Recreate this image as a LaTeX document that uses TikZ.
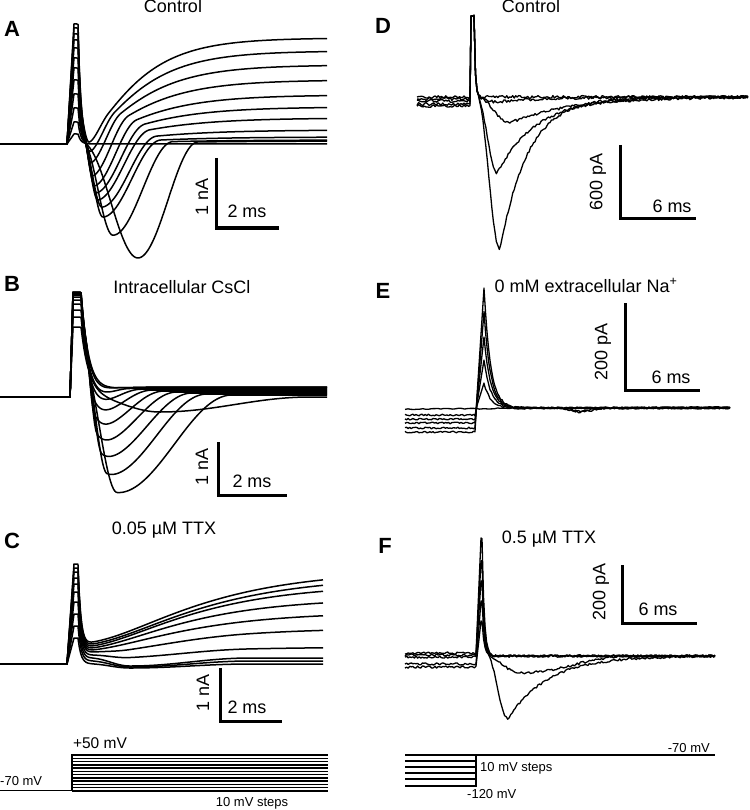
\documentclass[tikz,border=0pt]{standalone}
\usepackage{fontspec}
\setmainfont{Liberation Sans}
\begin{document}
\pgfmathsetseed{11}
\begin{tikzpicture}[x=1pt,y=-1pt,
  declare function={
    spk(\qx,\qp,\qh,\qt) = (\qx<\qp) ? \qh : \qh*exp(max(-12,-(\qx-\qp)/\qt));
    nac(\qx,\qs,\qm,\qw) = (\qx<\qs) ? 0 : ((\qx<\qm) ? 0.5*(1-cos((\qx-\qs)/(\qm-\qs)*180)) : ((\qx<\qm+\qw) ? 0.5*(1+cos((\qx-\qm)/\qw*180)) : 0));
    nae(\qx,\qs,\qm,\qw) = (\qx<\qs) ? 0 : ((\qx<\qm) ? 0.5*(1-cos((\qx-\qs)/(\qm-\qs)*180)) : exp(max(-12,-(\qx-\qm)/\qw)));
    kk(\qx,\qs,\qt) = (\qx<\qs) ? 0 : (1-exp(max(-12,-(\qx-\qs)/\qt)))*(1-exp(max(-12,-(\qx-\qs)/\qt)));
    ko(\qx,\qs,\qt) = (\qx<\qs) ? 0 : 1-exp(max(-12,-(\qx-\qs)/\qt));
  },
  tr/.style={line width=1.5pt,line join=round},
  trd/.style={line width=1.3pt,line join=round},
  sbar/.style={line width=3pt,line join=miter},
  proto/.style={line width=1.5pt},
  ttl/.style={font=\fontsize{18}{20}\selectfont,inner sep=0pt,anchor=base},
  lbl/.style={font=\fontsize{22}{24}\selectfont\bfseries,inner sep=0pt},
  sc/.style={font=\fontsize{18}{20}\selectfont,inner sep=0pt},
  scb/.style={font=\fontsize{18}{20}\selectfont,inner sep=0pt,anchor=base},
  sm/.style={font=\fontsize{13}{15}\selectfont,inner sep=0pt}]
\path[use as bounding box,fill=white] (0,0) rectangle (749,810);

% ---------------- Panel A ----------------
\node[lbl] (lA) at (12,29) {A};
\node[ttl] (tA) at (173,13) {Control};
\foreach \sH/\sD/\sT/\sW/\sP/\sK in {120/8/89/20/106/42, 116/16/90/25/93/44, 110/26/91/30/79/46, 104/38/93/36/64/48, 96/47/95/42/49/50, 86/53/97/48/37/52, 76/59/98/52/26/55, 64/65/102/55/14/58, 50/74/103/58/7/60, 36/92/113/60/4/65, 22/115/138/60/3/70, 10/0/140/50/0/70}
{\draw[tr] (0,144) -- (67,144) -- (74,{144-\sH}) -- plot[domain=74:327,samples=190] (\x,{144-spk(\x,78,\sH,2.8)+\sD*nac(\x,83,\sT,\sW)-\sP*kk(\x,76,\sK)});}
\draw[sbar] (216,158) -- (216,228) -- (279,228);
\node[sc,rotate=90] (sA1) at (202,197) {1 nA};
\node[scb] (sA2) at (247,218) {2 ms};

% ---------------- Panel B ----------------
\node[lbl] (lB) at (12,284) {B};
\node[ttl] (tB) at (182,293) {Intracellular CsCl};
\foreach \sH/\sD/\sT/\sW/\sP in {105/0/90/30/10, 105/3/90/30/10, 104/8/90/40/9, 103/15/91/50/8, 102/25/92/60/7, 100/38/94/70/6, 97/52/97/80/5, 93/66/102/90/4, 87/82/107/100/3, 80/98/117/115/2, 70/15/160/150/0}
{\draw[tr] (0,397) -- (70,397) -- (73,{397-\sH}) -- plot[domain=73:327,samples=190] (\x,{397-spk(\x,81,\sH,8)+\sD*nac(\x,86,\sT,\sW)-\sP*kk(\x,82,15)});}
\draw[sbar] (218,442) -- (218,495) -- (287,495);
\node[sc,rotate=90] (sB1) at (202,467) {1 nA};
\node[scb] (sB2) at (252,487) {2 ms};

% ---------------- Panel C ----------------
\node[lbl] (lC) at (12,541) {C};
\node[ttl] (tC) at (164,534) {0.05 µM TTX};
\foreach \sH/\sA/\sP/\sK/\sD in {100/22/72/90/0, 96/20/68/90/0, 92/18/62/85/0, 86/16/50/80/0, 80/14/38/80/0, 72/12/24/80/2, 62/9/8/80/4, 50/6/0/80/8, 38/3/0/80/6, 26/0/0/80/4}
{\draw[tr] (0,664) -- (67,664) -- (74,{664-\sH}) -- plot[domain=74:323,samples=190] (\x,{664-spk(\x,78,\sH,3)-\sA*ko(\x,78,5)-\sP*kk(\x,85,\sK)+\sD*nac(\x,90,130,120)});}
\draw[sbar] (220,668) -- (220,721) -- (282,721);
\node[sc,rotate=90] (sC1) at (203,693) {1 nA};
\node[scb] (sC2) at (247,713) {2 ms};
% protocol C
\draw[line width=1pt] (0,790.75) -- (72,790.75);
\foreach \i in {0,...,11}{\draw[proto] (72,{755+3.25*\i}) -- (328,{755+3.25*\i});}
\draw[line width=2pt] (72,790.75) -- (72,754.25);
\node[font=\fontsize{15.5}{17}\selectfont,inner sep=0pt,anchor=base] (pC1) at (100,748) {+50 mV};
\node[sm,anchor=base west] (pC2) at (0,785) {-70 mV};
\node[sm,anchor=base] (pC3) at (252,806) {10 mV steps};

% ---------------- Panel D ----------------
\node[lbl] (lD) at (383,26) {D};
\node[ttl] (tD) at (531,13) {Control};
\foreach \sL/\sD/\sT/\sW in {97/0/500/30, 99/5/497/50, 101/26/510/60, 104/76/497/40, 106/153/500/28}
{\draw[trd] plot[domain=417:470,samples=36] (\x,{\sL+1.4*rand}) -- (471,16) -- (474,16) -- plot[domain=474:748,samples=185] (\x,{97-spk(\x,474,81,1.2)+\sD*nae(\x,477,\sT,\sW)+1.4*rand});}
\draw[sbar] (620,145) -- (620,219) -- (696,219);
\node[sc,rotate=90] (sD1) at (598,182) {600 pA};
\node[scb] (sD2) at (672,212) {6 ms};

% ---------------- Panel E ----------------
\node[lbl] (lE) at (383,291) {E};
\node[ttl] (tE) at (586,292) {0 mM extracellular Na\textsuperscript{+}};
\foreach \sL/\sH/\sD in {432/120/0, 428/96/4, 423/71/0, 419/48/3, 415/25/0}
{\draw[trd] plot[domain=405:475,samples=46] (\x,{\sL+0.9*rand}) -- (477,{408-0.1*\sH}) -- (484,{408-\sH}) -- plot[domain=484:730,samples=165] (\x,{408-spk(\x,484,\sH,6.5)+\sD*nac(\x,560,578,30)+0.9*rand});}
\draw[trd] plot[domain=405:730,samples=110] (\x,{409-0.006*(\x-405)+0.6*rand});
\draw[sbar] (625,303) -- (625,390) -- (700,390);
\node[sc,rotate=90] (sE1) at (603,352) {200 pA};
\node[scb] (sE2) at (671,383) {6 ms};

% ---------------- Panel F ----------------
\node[lbl] (lF) at (385,546) {F};
\node[ttl] (tF) at (549,543) {0.5 µM TTX};
\foreach \sL/\sH/\sD/\sE in {653/118/0/0, 655/95/0/0, 657/75/17/0, 664/55/0/63, 667/35/0/0}
{\draw[trd] plot[domain=405:476,samples=46] (\x,{\sL+1.2*rand}) -- (481,{656-\sH}) -- plot[domain=482:715,samples=155] (\x,{656-spk(\x,482,\sH,2.2)+\sD*nac(\x,485,520,110)+\sE*nae(\x,487,508,40)+1.2*rand});}
\draw[sbar] (622,565) -- (622,623) -- (697,623);
\node[sc,rotate=90] (sF1) at (601,592) {200 pA};
\node[scb] (sF2) at (658,615) {6 ms};
% protocol F
\draw[proto] (405,755) -- (715,755);
\foreach \yy in {761,767,773,779,786}{\draw[proto] (405,\yy) -- (476,\yy);}
\draw[line width=2pt] (476,754.25) -- (476,786.75);
\node[sm,anchor=base east] (pF1) at (710,752) {-70 mV};
\node[sm,anchor=base west] (pF2) at (480,771) {10 mV steps};
\node[sm,anchor=base west] (pF3) at (467,798) {-120 mV};
\end{tikzpicture}
\end{document}
